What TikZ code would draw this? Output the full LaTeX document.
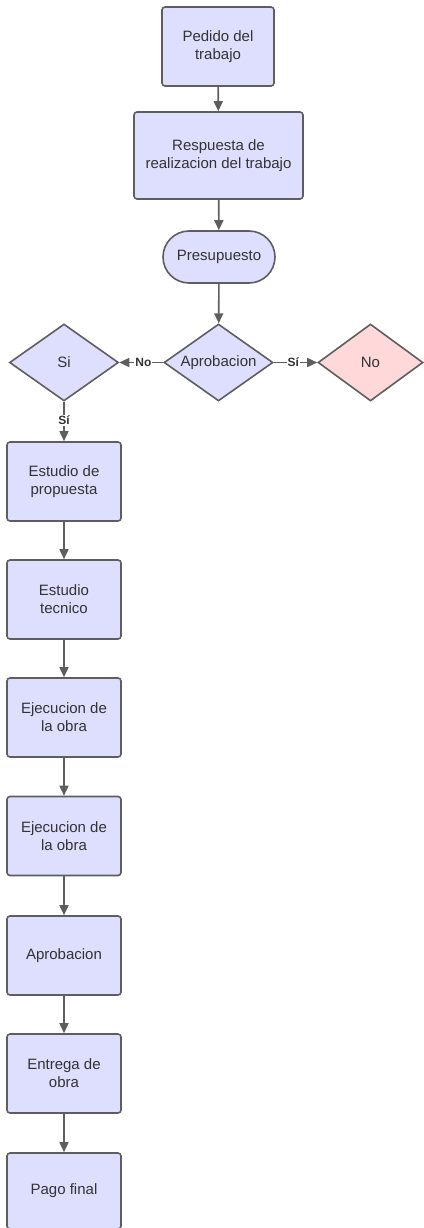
\documentclass[tikz,border=0pt]{standalone}
\usepackage{fontspec}
\setmainfont{Liberation Sans}
\usetikzlibrary{shapes.geometric,arrows.meta}
\definecolor{fillb}{RGB}{222,222,255}
\definecolor{fillp}{RGB}{255,217,217}
\definecolor{strk}{RGB}{94,94,94}
\definecolor{txt}{RGB}{51,51,51}
\begin{document}
\begin{tikzpicture}[x=1pt,y=-1pt,
  every node/.style={font=\fontsize{15}{18}\selectfont, text=txt},
  box/.style={draw=strk, fill=fillb, line width=1.6pt, rounded corners=3pt, align=center, inner sep=0pt, minimum width=112pt, minimum height=79pt},
  term/.style={draw=strk, fill=fillb, line width=1.6pt, rounded corners=26pt, align=center, inner sep=0pt, minimum width=112pt, minimum height=52pt},
  dec/.style={diamond, draw=strk, fill=fillb, line width=1.6pt, inner sep=0pt, minimum width=109pt, minimum height=77pt},
  conn/.style={draw=strk, line width=1.6pt, -{Triangle[width=9pt,length=10pt]}},
  lbl/.style={fill=white, inner sep=1pt, font=\fontsize{12}{14}\bfseries\selectfont}
]
\useasboundingbox (0,0) rectangle (423,1228);
\node[box] (b1) at (218,46.5) {Pedido del\\trabajo};
\node[box, minimum width=169pt, minimum height=87pt] (b2) at (218.5,155.5) {Respuesta de\\realizacion del trabajo};
\node[term] (pre) at (219,257) {Presupuesto};
\node[dec] (ap) at (218.5,362.5) {\makebox[0pt]{Aprobacion}};
\node[dec] (si) at (64,362.5) {\makebox[0pt]{Si}};
\node[dec, fill=fillp, minimum width=105pt] (no) at (370.5,362.5) {\makebox[0pt]{No}};
\node[box, minimum width=114pt] (e1) at (64,481.5) {Estudio de\\propuesta};
\node[box, minimum width=114pt] (e2) at (64,599.5) {Estudio\\tecnico};
\node[box, minimum width=114pt] (e3) at (64,717.5) {Ejecucion de\\la obra};
\node[box, minimum width=114pt] (e4) at (64,836) {Ejecucion de\\la obra};
\node[box, minimum width=114pt] (e5) at (64,955.5) {Aprobacion};
\node[box, minimum width=114pt] (e6) at (64,1073.5) {Entrega de\\obra};
\node[box, minimum width=114pt, minimum height=76pt] (e7) at (64,1191) {Pago final};
\draw[conn] (b1) -- (b2);
\draw[conn] (b2) -- (pre);
\draw[conn] (pre) -- (ap);
\draw[conn] (ap.west) -- node[lbl, pos=0.45] {No} (si.east);
\draw[conn] (ap.east) -- node[lbl, pos=0.45] {Sí} (no.west);
\draw[conn] (si.south) -- node[lbl, pos=0.47] {Sí} (e1.north);
\draw[conn] (e1) -- (e2);
\draw[conn] (e2) -- (e3);
\draw[conn] (e3) -- (e4);
\draw[conn] (e4) -- (e5);
\draw[conn] (e5) -- (e6);
\draw[conn] (e6) -- (e7);
\end{tikzpicture}
\end{document}
